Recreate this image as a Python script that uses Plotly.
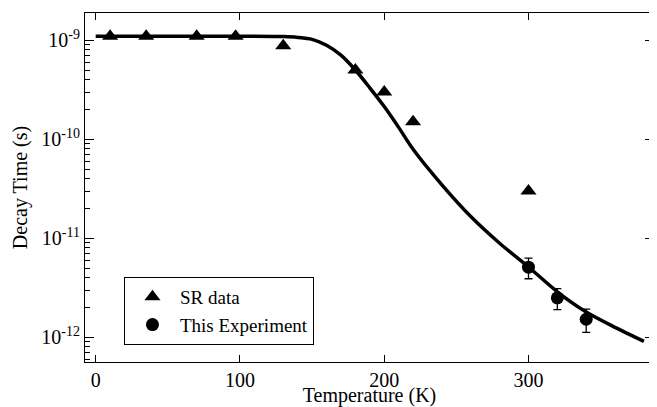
import plotly.graph_objects as go

# SR data (triangles)
sr_temp = [10, 35, 70, 97, 130, 180, 200, 220, 300]
sr_tau = [1.1e-9, 1.1e-9, 1.1e-9, 1.1e-9, 8.8e-10, 5.0e-10, 3.0e-10, 1.5e-10, 3.0e-11]

# This experiment (circles with error bars)
exp_temp = [300, 320, 340]
exp_tau = [5.1e-12, 2.5e-12, 1.52e-12]
exp_err = [1.2e-12, 0.6e-12, 0.4e-12]

# Fit curve
fit_temp = [0, 50, 100, 130, 140, 150, 160, 170, 180, 190, 200, 210, 220, 240, 260, 280, 300, 320, 340, 360, 380]
fit_tau = [1.10e-9, 1.10e-9, 1.10e-9, 1.09e-9, 1.07e-9, 1.023e-9, 8.91e-10, 7.08e-10, 5.01e-10, 3.31e-10,
           2.14e-10, 1.32e-10, 7.94e-11, 3.47e-11, 1.66e-11, 8.91e-12, 5.13e-12, 2.88e-12, 1.80e-12, 1.26e-12, 9.1e-13]

x_ticks = [0, 100, 200, 300]
y_tickvals = [1e-12, 1e-11, 1e-10, 1e-9]
y_ticktext = ["10<sup>-12</sup>", "10<sup>-11</sup>", "10<sup>-10</sup>", "10<sup>-9</sup>"]
y_minor = [m * 10.0 ** e for e in (-13, -12, -11, -10) for m in range(2, 10)]

FONT = "Liberation Serif"

fig = go.Figure()
fig.add_trace(go.Scatter(x=fit_temp, y=fit_tau, mode="lines",
                         line=dict(color="black", width=3.5, shape="spline", smoothing=0.8),
                         showlegend=False, hoverinfo="skip"))
fig.add_trace(go.Scatter(x=sr_temp, y=sr_tau, mode="markers", name="SR data",
                         marker=dict(symbol="triangle-up", size=14, color="black")))
fig.add_trace(go.Scatter(x=exp_temp, y=exp_tau, mode="markers", name="This Experiment",
                         marker=dict(symbol="circle", size=13, color="black"),
                         error_y=dict(type="data", array=exp_err, color="black", thickness=1.3, width=4)))

axis_common = dict(showline=True, linecolor="black", linewidth=1, mirror="ticks", ticks="inside",
                   tickcolor="black", showgrid=False, zeroline=False, automargin=False,
                   tickfont=dict(family=FONT, size=20, color="black"))

# The page body has an 8px margin, so the figure is 8px smaller than the window
fig.update_layout(
    width=649, height=399,
    margin=dict(l=77, r=3, t=5, b=45),
    paper_bgcolor="white", plot_bgcolor="white",
    font=dict(family=FONT, size=20, color="black"),
    xaxis=dict(range=[-7.4, 387], tickvals=x_ticks, ticklen=7,
               title=dict(text="Temperature (K)", font=dict(family=FONT, size=20), standoff=0),
               **axis_common),
    yaxis=dict(type="log", range=[-12.25, -8.724], tickvals=y_tickvals, ticktext=y_ticktext, ticklen=9,
               minor=dict(ticks="inside", ticklen=5, tickcolor="black", tickvals=y_minor, showgrid=False),
               title=dict(text="Decay Time (s)", font=dict(family=FONT, size=20), standoff=8),
               **axis_common),
    legend=dict(x=0.0685, y=0.2436, xanchor="left", yanchor="top", bordercolor="black", borderwidth=1,
                bgcolor="white", font=dict(family=FONT, size=19), itemwidth=45),
)

fig.write_html("out.html")
